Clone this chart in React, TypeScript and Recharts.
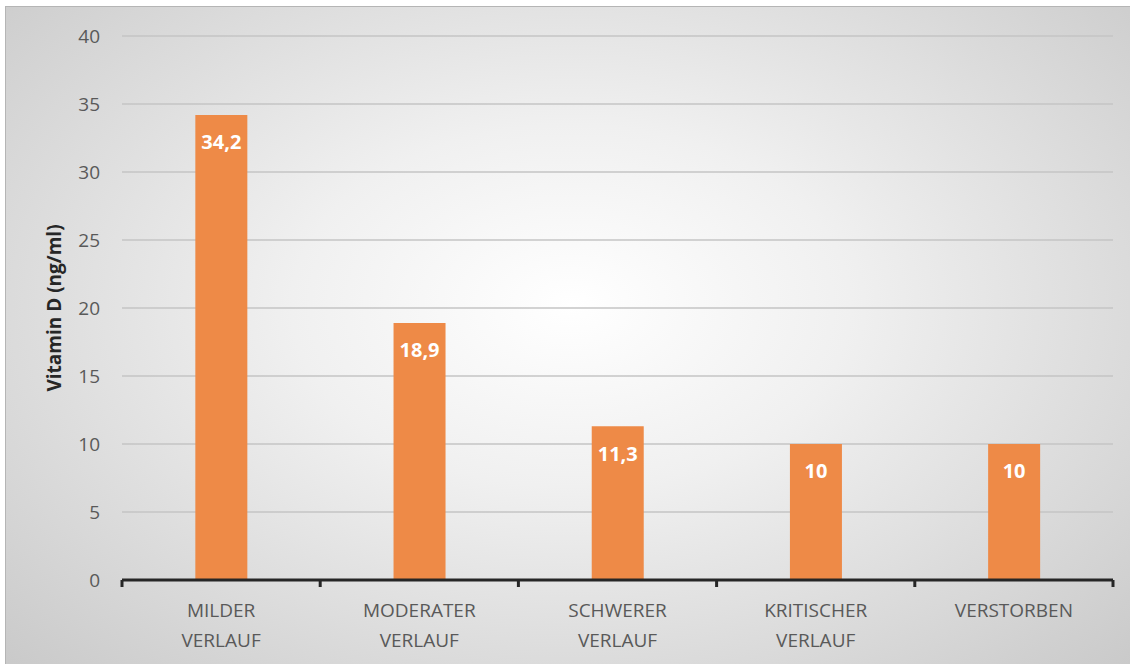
import { BarChart, Bar, XAxis, YAxis, CartesianGrid, LabelList } from 'recharts';

const categories = ['MILDER VERLAUF', 'MODERATER VERLAUF', 'SCHWERER VERLAUF', 'KRITISCHER VERLAUF', 'VERSTORBEN'];
const vitaminD = [34.2, 18.9, 11.3, 10, 10];
const yTicks = [0, 5, 10, 15, 20, 25, 30, 35, 40];

const data = categories.map((name, i) => ({ name, value: vitaminD[i] }));

const FONT = "'Open Sans', 'Noto Sans', sans-serif";

function CategoryTick(props: any) {
  const { x, y, payload, index, visibleTicksCount } = props;
  const half = payload.offset ?? 99;
  const lines = String(payload.value).split(' ');
  const isLast = index === (visibleTicksCount ?? categories.length) - 1;
  return (
    <g>
      <line x1={x - half} x2={x - half} y1={y} y2={y + 7} stroke="#262626" strokeWidth={3} />
      {isLast && <line x1={x + half} x2={x + half} y1={y} y2={y + 7} stroke="#262626" strokeWidth={3} />}
      {lines.map((line, i) => (
        <text key={i} x={x} y={y + 37 + i * 30} textAnchor="middle" fill="#595959" fontSize={19} fontFamily={FONT}>
          {line}
        </text>
      ))}
    </g>
  );
}

export default function App() {
  return (
    <div style={{ position: 'absolute', left: 0, top: 0, width: 1130, height: 664, background: '#ffffff', overflow: 'hidden' }}>
      <div
        style={{
          position: 'absolute',
          left: 5,
          top: 6,
          width: 1130,
          height: 664,
          borderLeft: '1px solid #b5b5b5',
          borderTop: '1px solid #b5b5b5',
          background: 'radial-gradient(ellipse at 50% 45%, #ffffff 0%, #f0f0f0 35%, #c9c9c9 100%)',
        }}
      />
      <div style={{ position: 'absolute', left: 0, top: 0 }}>
        <BarChart
          width={1130}
          height={664}
          data={data}
          margin={{ top: 36, right: 17, bottom: 0, left: 0 }}
          barCategoryGap="37%"
        >
          <CartesianGrid vertical={false} stroke="#c4c4c4" strokeWidth={1.5} />
          <XAxis
            dataKey="name"
            tick={<CategoryTick />}
            tickLine={false}
            tickSize={0}
            tickMargin={0}
            axisLine={{ stroke: '#262626', strokeWidth: 3 }}
            interval={0}
            height={84}
          />
          <YAxis
            width={122}
            domain={[0, 40]}
            ticks={yTicks}
            axisLine={false}
            tickLine={false}
            tickSize={0}
            tickMargin={22}
            tick={{ fill: '#595959', fontSize: 19, fontFamily: FONT }}
            label={{
              value: 'Vitamin D (ng/ml)',
              angle: -90,
              position: 'insideLeft',
              offset: 54,
              style: { fill: '#262626', fontSize: 19, fontWeight: 700, fontFamily: FONT, textAnchor: 'middle' },
            }}
          />
          <Bar dataKey="value" fill="#ee8a47" isAnimationActive={false}>
            <LabelList
              dataKey="value"
              position="insideTop"
              offset={20}
              formatter={(v: any) => String(v).replace('.', ',')}
              style={{ fill: '#ffffff', fontSize: 20, fontWeight: 700, fontFamily: FONT }}
            />
          </Bar>
        </BarChart>
      </div>
    </div>
  );
}
